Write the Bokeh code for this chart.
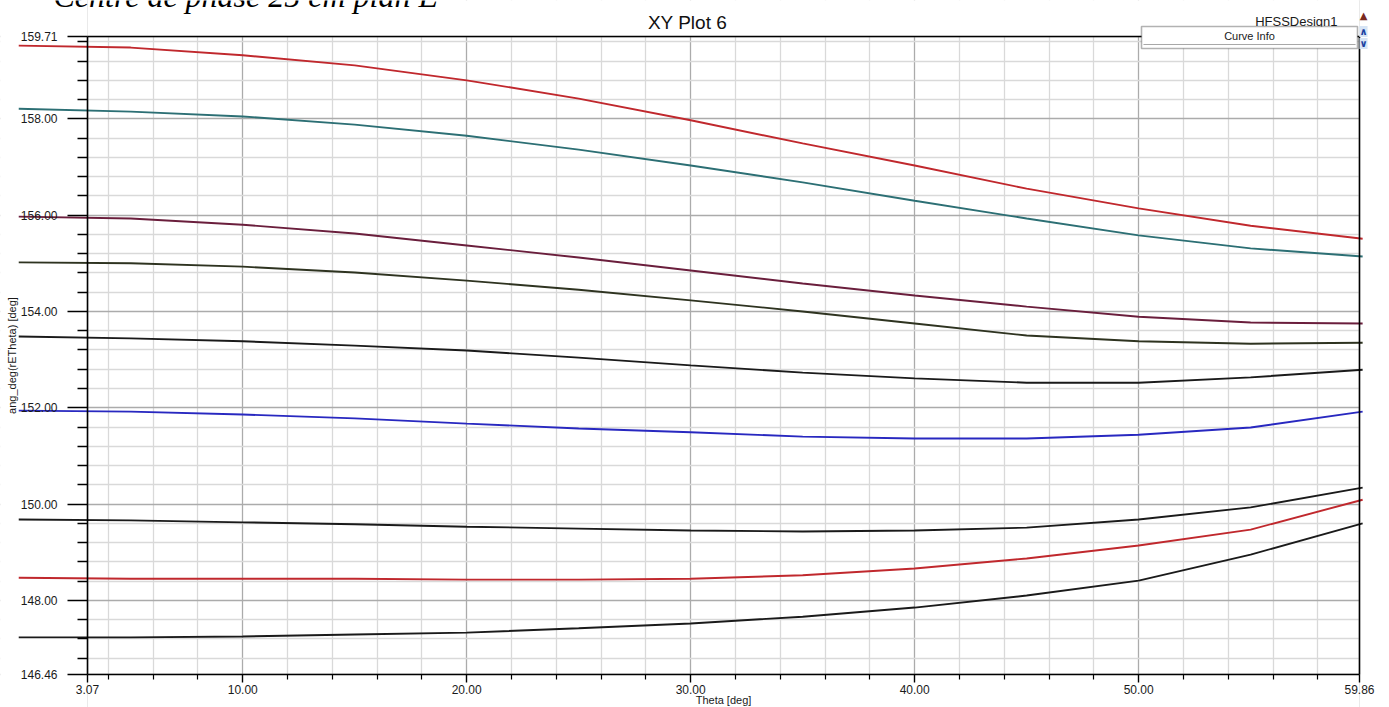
from bokeh.plotting import figure
from bokeh.models import (FixedTicker, LinearAxis, Label, BoxAnnotation, Range1d,
                          NumeralTickFormatter)
from bokeh.embed import file_html
from bokeh.resources import INLINE

# ---- data ----
theta = [0, 5, 10, 15, 20, 25, 30, 35, 40, 45, 50, 55, 60]
curve_1 = [159.52, 159.48, 159.32, 159.11, 158.80, 158.42, 157.97, 157.49, 157.03, 156.55, 156.14, 155.78, 155.51]
curve_2 = [158.21, 158.15, 158.05, 157.88, 157.65, 157.36, 157.03, 156.68, 156.30, 155.93, 155.58, 155.31, 155.14]
curve_3 = [155.97, 155.93, 155.80, 155.62, 155.37, 155.12, 154.85, 154.58, 154.33, 154.10, 153.89, 153.77, 153.75]
curve_4 = [155.02, 155.00, 154.93, 154.81, 154.64, 154.45, 154.23, 154.00, 153.75, 153.50, 153.38, 153.33, 153.35]
curve_5 = [153.48, 153.44, 153.38, 153.29, 153.19, 153.04, 152.88, 152.73, 152.61, 152.52, 152.52, 152.63, 152.79]
curve_6 = [151.94, 151.92, 151.86, 151.78, 151.67, 151.57, 151.49, 151.40, 151.36, 151.36, 151.44, 151.59, 151.92]
curve_7 = [149.68, 149.66, 149.62, 149.58, 149.53, 149.49, 149.45, 149.43, 149.45, 149.51, 149.68, 149.93, 150.34]
curve_8 = [148.47, 148.45, 148.45, 148.45, 148.43, 148.43, 148.45, 148.52, 148.66, 148.87, 149.14, 149.47, 150.09]
curve_9 = [147.23, 147.23, 147.25, 147.29, 147.33, 147.42, 147.52, 147.66, 147.85, 148.10, 148.41, 148.95, 149.60]
curves = [curve_1, curve_2, curve_3, curve_4, curve_5, curve_6, curve_7, curve_8, curve_9]
colors = ["#C0282D", "#2C6F74", "#6A1E3C", "#2E3320", "#1A1A1A", "#2828C0", "#1A1A1A", "#C0282D", "#1A1A1A"]

x_min, x_max = 3.07, 59.86
y_min, y_max = 146.46, 159.71
x_ticks = [3.07, 10, 20, 30, 40, 50, 59.86]
x_minor = [v for v in range(4, 60, 2) if v % 10 != 0]
y_ticks = [146.46, 148, 150, 152, 154, 156, 158, 159.71]
y_minor = [146.8, 147.2, 147.6, 148.4, 148.8, 149.2, 149.6, 150.4, 150.8, 151.2, 151.6,
           152.4, 152.8, 153.2, 153.6, 154.4, 154.8, 155.2, 155.6, 156.4, 156.8, 157.2,
           157.6, 158.4, 158.8, 159.2, 159.6]

title = "XY Plot 6"
x_label = "Theta [deg]"
y_label = "ang_deg(rETheta) [deg]"
header = "Centre de phase 25 cm plan E"

W, H = 1389, 707
# plot rectangle in page pixels
PL, PR, PT, PB = 87, 1359, 36, 674
kx = (PR - PL) / (x_max - x_min)
ky = (PB - PT) / (y_max - y_min)
xr = Range1d(x_min - PL / kx, x_max + (W - PR) / kx)
yr = Range1d(y_min - (H - PB) / ky, y_max + PT / ky)

p = figure(width=W, height=H, output_backend="svg", toolbar_location=None,
           x_range=xr, y_range=yr, min_border=0)
p.outline_line_color = None
p.background_fill_color = "white"
p.border_fill_color = "white"

# x axis (bottom)
xa = p.xaxis[0]
xa.fixed_location = y_min
xa.ticker = FixedTicker(ticks=x_ticks, minor_ticks=x_minor)
xa.formatter = NumeralTickFormatter(format="0.00")
xa.bounds = (x_min, x_max)
xa.axis_line_color = "black"
xa.axis_line_width = 1.6
xa.major_tick_out = 8
xa.major_tick_in = 0
xa.minor_tick_out = 5
xa.minor_tick_in = 0
xa.major_tick_line_width = 1.4
xa.minor_tick_line_width = 1.2
xa.major_label_standoff = 2
xa.major_label_text_font = "Liberation Sans"
xa.major_label_text_font_size = "12px"
xa.major_label_text_color = "#1a1a1a"
xa.axis_label = x_label
xa.axis_label_text_font = "Liberation Sans"
xa.axis_label_text_font_size = "11px"
xa.axis_label_text_font_style = "normal"
xa.axis_label_text_color = "#1a1a1a"
xa.axis_label_standoff = -3

# y axis (left)
ya = p.yaxis[0]
ya.fixed_location = x_min
ya.bounds = (y_min, y_max)
ya.ticker = FixedTicker(ticks=y_ticks, minor_ticks=y_minor)
ya.formatter = NumeralTickFormatter(format="0.00")
ya.axis_line_color = "black"
ya.axis_line_width = 1.6
ya.major_tick_out = 20
ya.major_tick_in = 0
ya.minor_tick_out = 10
ya.minor_tick_in = 0
ya.major_tick_line_width = 1.4
ya.minor_tick_line_width = 1.4
ya.major_label_standoff = 10
ya.major_label_text_font = "Liberation Sans"
ya.major_label_text_font_size = "12px"
ya.major_label_text_color = "#1a1a1a"
ya.axis_label = y_label
ya.axis_label_text_font = "Liberation Sans"
ya.axis_label_text_font_size = "11px"
ya.axis_label_text_font_style = "normal"
ya.axis_label_text_color = "#1a1a1a"
ya.axis_label_standoff = 0

# top and right frame borders
top_ax = LinearAxis(ticker=FixedTicker(ticks=[]), bounds=(x_min, x_max), fixed_location=y_max,
                    axis_line_color="black", axis_line_width=1.6, major_tick_out=0,
                    minor_tick_out=0, major_tick_in=0, minor_tick_in=0,
                    major_label_text_font_size="0px")
p.add_layout(top_ax, "above")
right_ax = LinearAxis(ticker=FixedTicker(ticks=[]), bounds=(y_min, y_max), fixed_location=x_max,
                      axis_line_color="black", axis_line_width=1.6, major_tick_out=0,
                      minor_tick_out=0, major_tick_in=0, minor_tick_in=0,
                      major_label_text_font_size="0px")
p.add_layout(right_ax, "right")

# grids
p.xgrid.ticker = FixedTicker(ticks=x_ticks, minor_ticks=x_minor)
p.ygrid.ticker = FixedTicker(ticks=y_ticks, minor_ticks=y_minor)
for g in (p.xgrid[0], p.ygrid[0]):
    g.grid_line_color = "#ABABAB"
    g.grid_line_width = 1.3
    g.minor_grid_line_color = "#D9D9D9"
    g.minor_grid_line_width = 1.3

# white masks over the grid outside the plot rectangle
p.quad(left=[xr.start, x_max, x_min, x_min], right=[x_min, xr.end, x_max, x_max],
       bottom=[yr.start, yr.start, y_max, yr.start], top=[yr.end, yr.end, yr.end, y_min],
       fill_color="white", line_color=None)

for vals, c in zip(curves, colors):
    p.line(theta, vals, line_color=c, line_width=1.9)

# header texts / curve info box (canvas pixels, from top-left)
p.add_layout(Label(x=53, y=-5, x_units="canvas", y_units="canvas",
                   text=header, text_font="Liberation Serif",
                   text_font_style="italic", text_font_size="32px", text_color="black",
                   text_baseline="alphabetic"))
p.add_layout(Label(x=687, y=22, x_units="canvas", y_units="canvas",
                   text=title, text_font="Liberation Sans", text_font_size="19px",
                   text_color="#111111", text_align="center", text_baseline="alphabetic"))
p.add_layout(Label(x=1337, y=21, x_units="canvas", y_units="canvas",
                   text="HFSSDesign1", text_font="Liberation Sans", text_font_size="13px",
                   text_color="#1a1a1a", text_align="right", text_baseline="alphabetic"))
p.add_layout(BoxAnnotation(left=1141, right=1357, top=26, bottom=48,
                           left_units="canvas", right_units="canvas",
                           top_units="canvas", bottom_units="canvas",
                           fill_color="white", fill_alpha=1.0, line_color="black",
                           line_width=1.6))
p.add_layout(BoxAnnotation(left=1143, right=1355, top=44, bottom=44,
                           left_units="canvas", right_units="canvas",
                           top_units="canvas", bottom_units="canvas",
                           fill_alpha=0, line_color="#555555", line_width=1))
p.add_layout(Label(x=1249, y=35, x_units="canvas", y_units="canvas",
                   text="Curve Info", text_font="Liberation Sans", text_font_size="11px",
                   text_color="#1a1a1a", text_align="center", text_baseline="middle"))
p.add_layout(Label(x=1363, y=15, x_units="canvas", y_units="canvas",
                   text="▲", text_font="DejaVu Sans", text_font_size="10px",
                   text_color="#7A2A1F", text_align="center", text_baseline="middle"))
p.add_layout(Label(x=1363, y=31, x_units="canvas", y_units="canvas",
                   text="∧", text_font="DejaVu Sans", text_font_size="10px", text_font_style="bold",
                   text_color="#1A3FA0", text_align="center", text_baseline="middle",
                   background_fill_color="#D6E4F5"))
p.add_layout(Label(x=1363, y=43, x_units="canvas", y_units="canvas",
                   text="∨", text_font="DejaVu Sans", text_font_size="10px", text_font_style="bold",
                   text_color="#1A3FA0", text_align="center", text_baseline="middle",
                   background_fill_color="#D6E4F5"))

open("out.html", "w").write(file_html(p, INLINE))
